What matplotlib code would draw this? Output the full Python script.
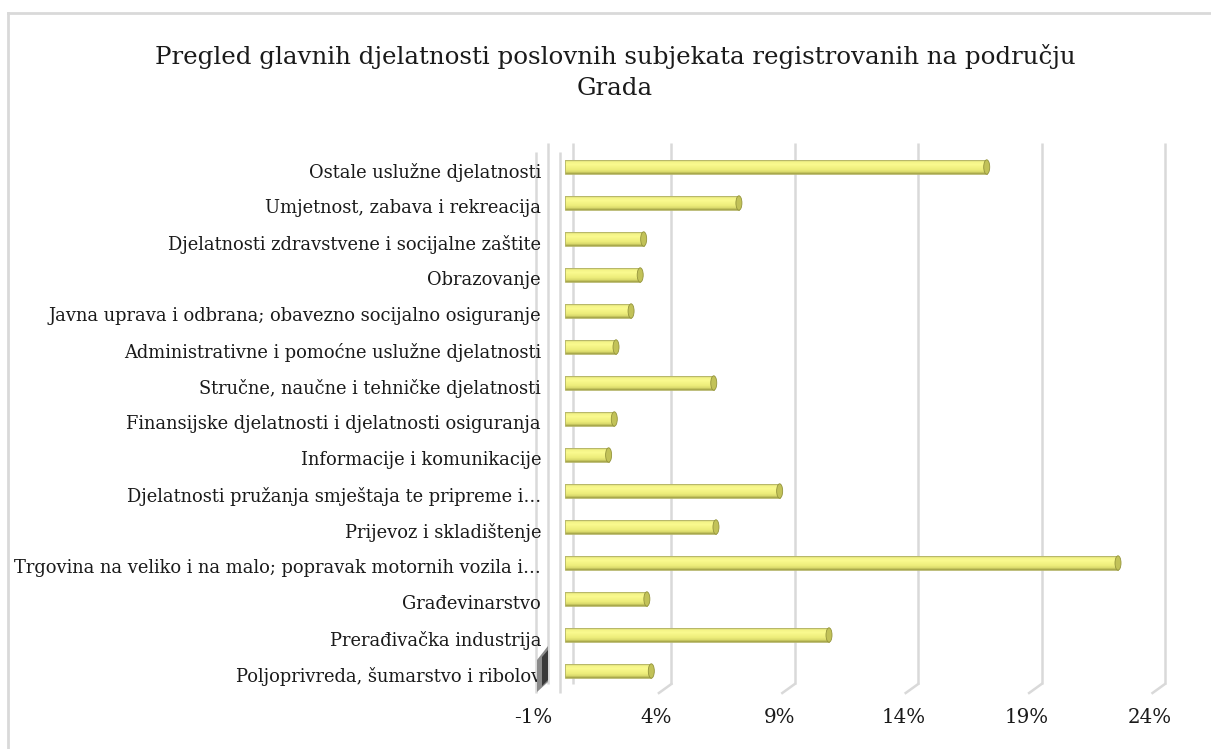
import matplotlib
matplotlib.use('Agg')
import matplotlib.pyplot as plt
from matplotlib.transforms import ScaledTranslation
from matplotlib.patches import Ellipse, Polygon
from matplotlib.lines import Line2D
from matplotlib.colors import LinearSegmentedColormap
import numpy as np

# ---------------- data (bottom -> top, as in the source sheet) ----------------
categories = [
    "Poljoprivreda, šumarstvo i ribolov",
    "Prerađivačka industrija",
    "Građevinarstvo",
    "Trgovina na veliko i na malo; popravak motornih vozila i…",
    "Prijevoz i skladištenje",
    "Djelatnosti pružanja smještaja te pripreme i…",
    "Informacije i komunikacije",
    "Finansijske djelatnosti i djelatnosti osiguranja",
    "Stručne, naučne i tehničke djelatnosti",
    "Administrativne i pomoćne uslužne djelatnosti",
    "Javna uprava i odbrana; obavezno socijalno osiguranje",
    "Obrazovanje",
    "Djelatnosti zdravstvene i socijalne zaštite",
    "Umjetnost, zabava i rekreacija",
    "Ostale uslužne djelatnosti",
]
shares = [3.51, 10.71, 3.33, 22.42, 6.13, 8.71, 1.78, 2.01, 6.04, 2.08, 2.69, 3.06, 3.20, 7.06, 17.10]
x_ticks = [-1, 4, 9, 14, 19, 24]
x_tick_labels = ["-1%", "4%", "9%", "14%", "19%", "24%"]
title = "Pregled glavnih djelatnosti poslovnih subjekata registrovanih na području\nGrada"

# ---------------- figure / layout ----------------
W, H = 1211, 749
fig = plt.figure(figsize=(W / 100, H / 100), dpi=100)
fig.patch.set_facecolor('white')

def rect(x0, y0, x1, y1):
    return [x0 / W, 1 - y1 / H, (x1 - x0) / W, (y1 - y0) / H]

AX_L, AX_T, AX_R, AX_B = 548, 149, 1165, 689
ax = fig.add_axes(rect(AX_L, AX_T, AX_R, AX_B))
ax.patch.set_alpha(0)
for s in ax.spines.values():
    s.set_visible(False)
ax.tick_params(length=0)

FONT = 'DejaVu Serif'
GRID = '#d9d9d9'
ppu = (AX_R - AX_L) / (x_ticks[-1] - x_ticks[0])      # pixels per data unit
ax_h = AX_B - AX_T
inch = fig.dpi_scale_trans

# ---------------- 3D-ish walls and gridlines ----------------
xt = ax.get_xaxis_transform()
y_top = (AX_B - 143) / ax_h
y_bot = (AX_B - 684) / ax_h
depth_x, depth_y = 12.5, 9.0   # px
for t in [x_ticks[0], 0] + x_ticks[1:]:
    ax.plot([t, t], [y_bot, y_top], color=GRID, lw=1.8, transform=xt,
            clip_on=False, zorder=0, solid_capstyle='butt')
for t in x_ticks[1:]:
    ax.plot([t, t - depth_x / ppu], [y_bot, y_bot - depth_y / ax_h], color=GRID,
            lw=1.8, transform=xt, clip_on=False, zorder=0)
front_tr = xt + ScaledTranslation(-depth_x / 100, -depth_y / 100, inch)
for t in [x_ticks[0], 0]:
    ax.plot([t, t], [y_bot, y_top], color=GRID, lw=1.8, transform=front_tr,
            clip_on=False, zorder=0, solid_capstyle='butt')

# ---------------- cylinder-like bars ----------------
ypos = np.arange(len(categories))
vals = np.array(shares)
h = 0.40
bar_tr = ax.transData + ScaledTranslation(-0.08, 0, inch)
cmap = LinearSegmentedColormap.from_list('cyl', [
    (0.00, '#9c9c44'), (0.12, '#cfcf64'), (0.35, '#eded7a'),
    (0.65, '#f9f98e'), (0.88, '#f4f487'), (1.00, '#c4c472')])
n = 16
for i in range(n):
    f = (i + 0.5) / n
    ax.barh(ypos - h / 2 + f * h, vals, height=h / n * 1.08, left=0,
            color=cmap(f), lw=0, transform=bar_tr, zorder=2)
ax.barh(ypos, vals, height=h, left=0, fill=False, edgecolor='#b4b468',
        lw=0.6, transform=bar_tr, zorder=3)
cap_w = 6.0 / ppu
for y, v in zip(ypos, vals):
    ax.add_patch(Ellipse((v, y), width=cap_w, height=h, facecolor='#c2c258',
                         edgecolor='#94943c', lw=0.6, transform=bar_tr, zorder=4))

ax.set_xlim(x_ticks[0], x_ticks[-1])
ax.set_ylim(-0.5, len(categories) - 0.5)

# ---------------- tick labels ----------------
ax.set_yticks(ypos)
ax.set_yticklabels(categories, family=FONT, fontsize=12, color='#1a1a1a')
ax.tick_params(axis='y', pad=5)
ax.set_xticks(x_ticks)
ax.set_xticklabels(x_tick_labels, family=FONT, fontsize=13, color='#1a1a1a')
ax.tick_params(axis='x', pad=14)

fig.canvas.draw()
r = fig.canvas.get_renderer()
# fit label sizes to the reference text widths
ylabs = ax.get_yticklabels()
ref = ylabs[-1]
k = 233 / ref.get_window_extent(r).width
for lab in ylabs:
    lab.set_fontsize(lab.get_fontsize() * k)
    lab.set_transform(lab.get_transform() + ScaledTranslation(0, -0.03, inch))
xlabs = ax.get_xticklabels()
k2 = 44 / xlabs[3].get_window_extent(r).width
for lab in xlabs:
    lab.set_fontsize(lab.get_fontsize() * k2)
    lab.set_transform(lab.get_transform() + ScaledTranslation(-0.15, 0, inch))

# ---------------- title ----------------
tt = fig.text(615 / W, 1 - 72 / H, title, ha='center', va='center',
              family=FONT, fontsize=15, color='#1a1a1a', linespacing=1.2)
fig.canvas.draw()
kt = 923 / tt.get_window_extent(r).width
fs = 15 * kt
tt.set_fontsize(fs)
tt.set_linespacing(1.42)

# ---------------- dark wall edge and chart border ----------------
def fpt(x, y):
    return (x / W, 1 - y / H)
fig.add_artist(Polygon([fpt(548, 646), fpt(548, 682), fpt(537, 692), fpt(537, 660)],
                       closed=True, transform=fig.transFigure,
                       facecolor='#8a8a8a', edgecolor='none', zorder=5))
fig.add_artist(Polygon([fpt(548, 650), fpt(548, 680), fpt(542, 686), fpt(542, 657)],
                       closed=True, transform=fig.transFigure,
                       facecolor='#3a3a3a', edgecolor='none', zorder=6))
fig.add_artist(Line2D([8 / W, 1], [1 - 13 / H, 1 - 13 / H], color=GRID, lw=2,
                      transform=fig.transFigure))
fig.add_artist(Line2D([8 / W, 8 / W], [0, 1 - 13 / H], color=GRID, lw=2,
                      transform=fig.transFigure))

fig.savefig('out.png', dpi=100, facecolor='white')
